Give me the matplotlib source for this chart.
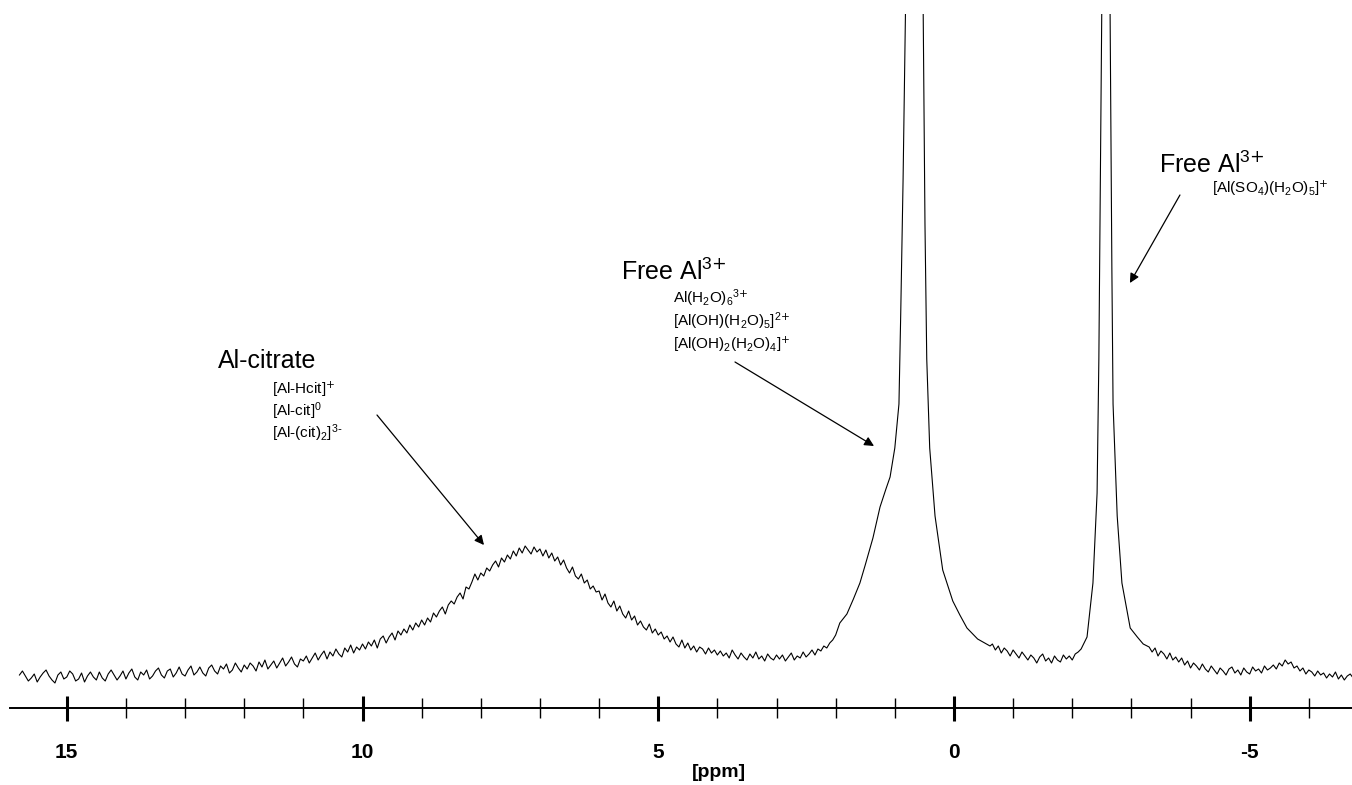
import matplotlib
matplotlib.use("Agg")
import matplotlib.pyplot as plt
from matplotlib.ticker import MultipleLocator

plt.rcParams['font.family'] = ['Liberation Sans', 'DejaVu Sans']
plt.rcParams['axes.unicode_minus'] = False

# 27Al NMR trace (chemical shift in ppm, intensity in a.u.)
ppm = [
    15.80, 15.75, 15.70, 15.65, 15.60, 15.55, 15.50, 15.45, 15.40, 15.35,
    15.30, 15.25, 15.20, 15.15, 15.10, 15.05, 15.00, 14.95, 14.90, 14.85,
    14.80, 14.75, 14.70, 14.65, 14.60, 14.55, 14.50, 14.45, 14.40, 14.35,
    14.30, 14.25, 14.20, 14.15, 14.10, 14.05, 14.00, 13.95, 13.90, 13.85,
    13.80, 13.75, 13.70, 13.65, 13.60, 13.55, 13.50, 13.45, 13.40, 13.35,
    13.30, 13.25, 13.20, 13.15, 13.10, 13.05, 13.00, 12.95, 12.90, 12.85,
    12.80, 12.75, 12.70, 12.65, 12.60, 12.55, 12.50, 12.45, 12.40, 12.35,
    12.30, 12.25, 12.20, 12.15, 12.10, 12.05, 12.00, 11.95, 11.90, 11.85,
    11.80, 11.75, 11.70, 11.65, 11.60, 11.55, 11.50, 11.45, 11.40, 11.35,
    11.30, 11.25, 11.20, 11.15, 11.10, 11.05, 11.00, 10.95, 10.90, 10.85,
    10.80, 10.75, 10.70, 10.65, 10.60, 10.55, 10.50, 10.45, 10.40, 10.35,
    10.30, 10.25, 10.20, 10.15, 10.10, 10.05, 10.00, 9.95, 9.90, 9.85,
    9.80, 9.75, 9.70, 9.65, 9.60, 9.55, 9.50, 9.45, 9.40, 9.35,
    9.30, 9.25, 9.20, 9.15, 9.10, 9.05, 9.00, 8.95, 8.90, 8.85,
    8.80, 8.75, 8.70, 8.65, 8.60, 8.55, 8.50, 8.45, 8.40, 8.35,
    8.30, 8.25, 8.20, 8.15, 8.10, 8.05, 8.00, 7.95, 7.90, 7.85,
    7.80, 7.75, 7.70, 7.65, 7.60, 7.55, 7.50, 7.45, 7.40, 7.35,
    7.30, 7.25, 7.20, 7.15, 7.10, 7.05, 7.00, 6.95, 6.90, 6.85,
    6.80, 6.75, 6.70, 6.65, 6.60, 6.55, 6.50, 6.45, 6.40, 6.35,
    6.30, 6.25, 6.20, 6.15, 6.10, 6.05, 6.00, 5.95, 5.90, 5.85,
    5.80, 5.75, 5.70, 5.65, 5.60, 5.55, 5.50, 5.45, 5.40, 5.35,
    5.30, 5.25, 5.20, 5.15, 5.10, 5.05, 5.00, 4.95, 4.90, 4.85,
    4.80, 4.75, 4.70, 4.65, 4.60, 4.55, 4.50, 4.45, 4.40, 4.35,
    4.30, 4.25, 4.20, 4.15, 4.10, 4.05, 4.00, 3.95, 3.90, 3.85,
    3.80, 3.75, 3.70, 3.65, 3.60, 3.55, 3.50, 3.45, 3.40, 3.35,
    3.30, 3.25, 3.20, 3.15, 3.10, 3.05, 3.00, 2.95, 2.90, 2.85,
    2.80, 2.75, 2.70, 2.65, 2.60, 2.55, 2.50, 2.45, 2.40, 2.35,
    2.30, 2.25, 2.20, 2.15, 2.10, 2.05, 2.00,
    1.93, 1.81, 1.70, 1.59, 1.50, 1.37, 1.25, 1.15, 1.08, 1.00,
    0.93, 0.90, 0.86, 0.82, 0.75, 0.68, 0.60, 0.52, 0.49, 0.46,
    0.41, 0.32, 0.19, 0.02, -0.10, -0.22, -0.40, -0.61,
    -0.65, -0.70, -0.75, -0.80, -0.85, -0.90, -0.95, -1.00, -1.05, -1.10,
    -1.15, -1.20, -1.25, -1.30, -1.35, -1.40, -1.45, -1.50, -1.55, -1.60,
    -1.65, -1.70, -1.75, -1.80, -1.85, -1.90, -1.95, -2.00, -2.05, -2.10,
    -2.15, -2.20, -2.25, -2.35, -2.42, -2.45, -2.50, -2.53, -2.57, -2.61,
    -2.64, -2.67, -2.69, -2.76, -2.84, -2.98, -3.10, -3.20,
    -3.30, -3.35, -3.40, -3.45, -3.50, -3.55, -3.60, -3.65, -3.70, -3.75,
    -3.80, -3.85, -3.90, -3.95, -4.00, -4.05, -4.10, -4.15, -4.20, -4.25,
    -4.30, -4.35, -4.40, -4.45, -4.50, -4.55, -4.60, -4.65, -4.70, -4.75,
    -4.80, -4.85, -4.90, -4.95, -5.00, -5.05, -5.10, -5.15, -5.20, -5.25,
    -5.30, -5.35, -5.40, -5.45, -5.50, -5.55, -5.60, -5.65, -5.70, -5.75,
    -5.80, -5.85, -5.90, -5.95, -6.00, -6.05, -6.10, -6.15, -6.20, -6.25,
    -6.30, -6.35, -6.40, -6.45, -6.50, -6.55, -6.60, -6.65, -6.70, -6.75,
]
intensity = [
    2, 6, 1, -4, -1, 3, -5, 0, 4, 7,
    1, -3, -6, 2, 5, -2, 0, 6, 3, -4,
    -2, 4, -5, 1, 5, 0, -3, 5, -1, -4,
    3, 7, 2, -3, 1, 6, -2, 4, 8, 0,
    -3, 5, 2, 7, -2, 1, 6, 9, 2, -1,
    6, 8, 0, 4, 10, 3, 1, 7, 11, 2,
    5, 10, 4, 1, 9, 12, 6, 3, 11, 8,
    13, 4, 7, 14, 9, 5, 12, 8, 14, 11,
    6, 15, 10, 17, 8, 12, 16, 9, 14, 19,
    11, 15, 20, 13, 10, 18, 16, 21, 14, 19,
    24, 17, 22, 26, 18, 25, 21, 28, 23, 20,
    29, 25, 32, 24, 30, 27, 33, 28, 35, 31,
    37, 29, 38, 41, 34, 40, 44, 37, 46, 42,
    48, 44, 52, 47, 54, 50, 57, 52, 59, 55,
    64, 60, 66, 70, 63, 72, 76, 73, 80, 84,
    78, 90, 88, 95, 103, 97, 104, 101, 109, 106,
    112, 116, 110, 119, 115, 122, 118, 126, 121, 129,
    124, 131, 127, 123, 130, 125, 128, 121, 127, 119,
    124, 116, 120, 112, 117, 109, 104, 110, 101, 98,
    103, 94, 97, 88, 91, 85, 86, 77, 83, 74,
    70, 76, 66, 71, 63, 59, 66, 57, 61, 52,
    56, 50, 47, 53, 44, 48, 42, 45, 38, 41,
    35, 40, 33, 30, 37, 29, 34, 27, 31, 25,
    30, 28, 23, 29, 24, 27, 22, 26, 21, 24,
    19, 27, 22, 18, 24, 20, 17, 23, 19, 25,
    18, 21, 16, 23, 19, 17, 22, 18, 22, 16,
    20, 24, 17, 21, 19, 25, 20, 23, 27, 22,
    28, 26, 31, 29, 34, 37, 42,
    54, 63, 78, 94, 112, 139, 170, 188, 200, 229,
    273, 363, 498, 664, 1500, 3000, 1500, 664, 453, 318,
    229, 161, 107, 76, 62, 49, 38, 31,
    33, 27, 31, 24, 29, 26, 21, 27, 23, 19,
    25, 21, 17, 22, 19, 14, 20, 23, 16, 19,
    14, 21, 17, 15, 22, 18, 21, 17, 23, 25,
    28, 34, 40, 94, 184, 318, 664, 1200, 2000, 1200,
    664, 408, 273, 161, 94, 49, 40, 33,
    30, 25, 29, 21, 26, 23, 18, 24, 17, 20,
    15, 19, 12, 16, 9, 14, 11, 7, 13, 8,
    5, 11, 7, 3, 9, 6, 2, 8, 10, 4,
    7, 2, 9, 5, 3, 10, 6, 8, 4, 11,
    7, 9, 12, 8, 14, 11, 17, 13, 15, 9,
    11, 6, 9, 3, 7, 5, 1, 6, 2, 4,
    -1, 3, 0, 5, -2, 2, -3, 1, 3, -1,
]

major_ticks = [15, 10, 5, 0, -5]

fig = plt.figure(figsize=(13.52, 7.85), dpi=100)
ax = fig.add_axes([10 / 1352, 77 / 785, 1342 / 1352, 694 / 785])

ax.plot(ppm, intensity, color='black', lw=0.8)

ax.set_xlim(15.96, -6.73)
ax.set_ylim(-31, 663)

for s in ['left', 'right', 'top']:
    ax.spines[s].set_visible(False)
ax.spines['bottom'].set_linewidth(1.4)
ax.set_yticks([])

ax.set_xticks(major_ticks)
ax.xaxis.set_minor_locator(MultipleLocator(1))
ax.tick_params(axis='x', which='major', direction='inout', length=18, width=2.2,
               pad=16, labelsize=15)
ax.tick_params(axis='x', which='minor', direction='inout', length=14, width=1.0)
for lab in ax.get_xticklabels():
    lab.set_fontweight('bold')

ax.set_xlabel('[ppm]', fontsize=14, fontweight='bold')
ax.xaxis.set_label_coords(709 / 1342, -56 / 694)

# annotations
big = 18
small = 11
arrow = dict(arrowstyle='-|>', color='black', lw=0.9, mutation_scale=14,
             shrinkA=0, shrinkB=0)

ax.text(12.44, 309, 'Al-citrate', fontsize=big)
for i, s in enumerate([r'[Al-Hcit]$\mathregular{^{\text{+}}}$',
                       r'[Al-cit]$\mathregular{^{0}}$',
                       r'[Al-(cit)$\mathregular{_{2}}$]$\mathregular{^{3\text{-}}}$']):
    ax.text(11.535, 283 - 22 * i, s, fontsize=small)
ax.annotate('', xy=(7.946, 132), xytext=(9.755, 262), arrowprops=arrow)

ax.text(5.635, 397, r'Free Al$\mathregular{^{3\text{+}}}$', fontsize=big)
for i, s in enumerate([r'Al(H$\mathregular{_2}$O)$\mathregular{_6}$$\mathregular{^{3\text{+}}}$',
                       r'[Al(OH)(H$\mathregular{_2}$O)$\mathregular{_5}$]$\mathregular{^{2\text{+}}}$',
                       r'[Al(OH)$\mathregular{_2}$(H$\mathregular{_2}$O)$\mathregular{_4}$]$\mathregular{^{\text{+}}}$']):
    ax.text(4.756, 374 - 23 * i, s, fontsize=small)
ax.annotate('', xy=(1.352, 231), xytext=(3.702, 315), arrowprops=arrow)

ax.text(-3.466, 504, r'Free Al$\mathregular{^{3\text{+}}}$', fontsize=big)
ax.text(-4.357, 484,
        r'[Al(SO$\mathregular{_4}$)(H$\mathregular{_2}$O)$\mathregular{_5}$]$\mathregular{^{\text{+}}}$',
        fontsize=small)
ax.annotate('', xy=(-2.975, 394), xytext=(-3.821, 482), arrowprops=arrow)

fig.savefig('out.png', dpi=100)
